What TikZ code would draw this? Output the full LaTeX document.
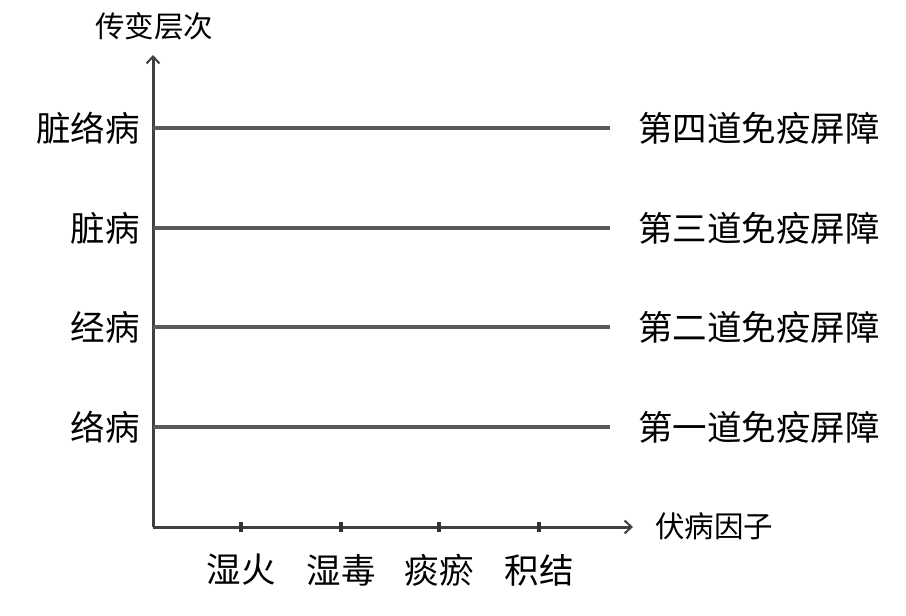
\documentclass[tikz,border=0pt]{standalone}
\usepackage{fontspec}
\newfontfamily\cjk{Noto Sans CJK SC}
\usetikzlibrary{arrows.meta}
\begin{document}
\begin{tikzpicture}[x=1pt,y=-1pt,
  axis/.style={draw=black!75,line width=3pt,-{Straight Barb[length=7pt,width=13pt,line width=2pt]}},
  level/.style={draw=black!65,line width=3.4pt},
  tickmark/.style={draw=black!80,line width=4pt},
  big/.style={font=\cjk\fontsize{34.5}{34.5}\selectfont,inner sep=0pt},
  small/.style={font=\cjk\fontsize{29.5}{29.5}\selectfont,inner sep=0pt}]
\useasboundingbox[fill=white] (0,0) rectangle (906,616);
\coordinate (O) at (153,527);
\coordinate (Ytop) at (153,55);
\coordinate (Xend) at (633,527);
\draw[axis] (O) -- (Ytop);
\draw[axis] (O) -- (Xend);
\node[small,anchor=south] (ylab) at (154,40) {传变层次};
\node[small,anchor=west] (xlab) at (655,526) {伏病因子};
% levels
\foreach \y/\l/\r/\n in {128/脏络病/第四道免疫屏障/4,228/脏病/第三道免疫屏障/3,327/经病/第二道免疫屏障/2,427/络病/第一道免疫屏障/1}{
  \coordinate (L\n) at (153,\y);
  \coordinate (R\n) at (610,\y);
  \draw[level] (L\n) -- (R\n);
  \node[big,anchor=east] (ll\n) at (140,\y) {\l};
  \node[big,anchor=west] (rl\n) at (638,\y) {\r};
}
% ticks and factor labels
\foreach \x/\t/\n in {241/湿火/1,341/湿毒/2,439/痰瘀/3,539/积结/4}{
  \coordinate (T\n) at (\x,527);
  \draw[tickmark] ([yshift=-5]T\n) -- ([yshift=5]T\n);
  \node[big] (f\n) at (\x,570) {\t};
}
\end{tikzpicture}
\end{document}
